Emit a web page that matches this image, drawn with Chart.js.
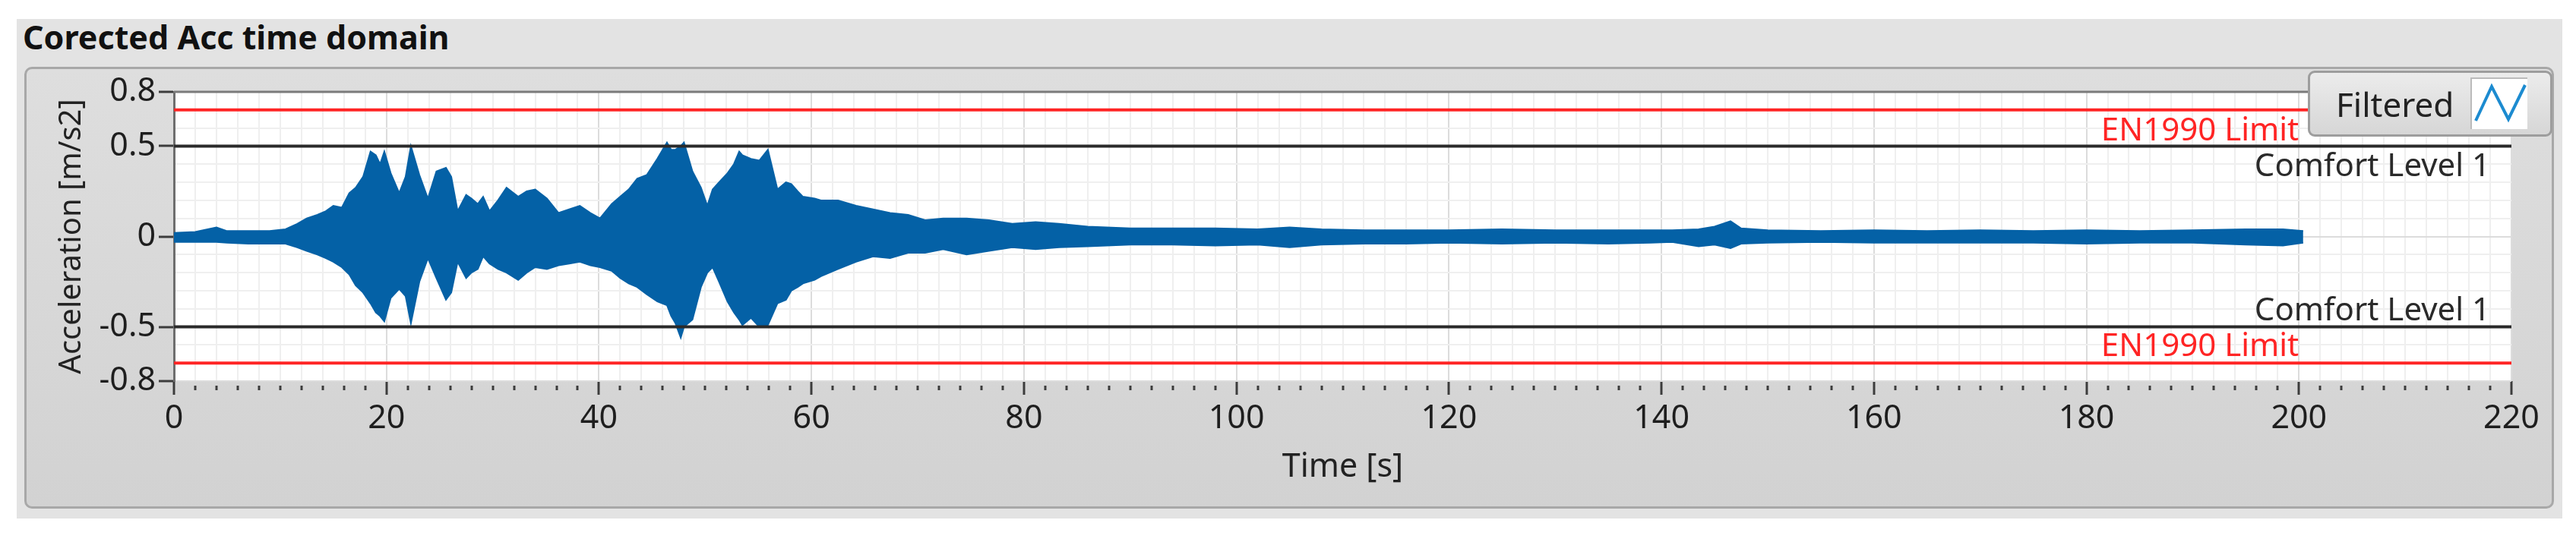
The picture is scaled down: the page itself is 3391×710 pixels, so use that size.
<!DOCTYPE html>
<html>
<head>
<meta charset="utf-8">
<script src="https://cdn.jsdelivr.net/npm/chart.js@4.4.0/dist/chart.umd.min.js"></script>
<style>
body { margin: 0; background: #fff; width: 3391px; height: 710px; overflow: hidden; position: relative; font-family: 'Noto Sans', sans-serif; }
#outer { position: absolute; left: 22px; top: 25px; width: 3351px; height: 658px; background: #e3e3e3; }
#title { position: absolute; left: 30px; top: 27px; font-weight: bold; font-size: 43px; line-height: 43px; color: #111; white-space: nowrap; }
#inner { position: absolute; left: 32px; top: 88px; width: 3324px; height: 576px; border: 3px solid #a8a8a8; border-radius: 10px; background: linear-gradient(#dedede, #d2d2d2); }
#wrap { position: absolute; left: 0; top: 0; width: 3391px; height: 710px; }
#legend { position: absolute; left: 3038px; top: 93px; width: 316px; height: 81px; border: 3px solid #9d9d9d; border-radius: 9px; background: linear-gradient(#ececec, #d6d6d6); }
#legName { position: absolute; left: 34px; top: 19px; font-size: 44px; line-height: 44px; color: #222; }
#legIcon { position: absolute; left: 211px; top: 6px; width: 73px; height: 66px; background: #fff; border-left: 2px solid #bbb; border-top: 2px solid #bbb; }
</style>
</head>
<body>
<div id="outer"></div>
<div id="title">Corected Acc time domain</div>
<div id="inner"></div>
<div id="wrap"><canvas id="chart" width="3391" height="710"></canvas></div>
<div id="legend">
  <span id="legName">Filtered</span>
  <div id="legIcon"><svg width="73" height="66"><polyline points="5,55 26,10 48,53 70,8" stroke="#1c8bd0" stroke-width="4" fill="none"/></svg></div>
</div>
<script>
// envelope of the filtered acceleration signal (max / min)
var timeS = [0, 2, 4, 5, 7, 9, 10.5, 11.6, 12.5, 13.5, 14.3, 15, 15.8, 16.5, 17.1, 17.8, 18.5, 19, 19.4, 19.8,
  20.4, 21.2, 21.8, 22.3, 23.1, 23.9, 24.7, 25.6, 26.1, 26.7, 27.5, 28, 28.6, 29.1, 29.7, 30.5, 31.3, 32.4, 33.2, 34,
  35.1, 36.2, 37.2, 38.2, 39.2, 40.1, 41.2, 42, 42.8, 43.6, 44.5, 45.5, 46.4, 46.8, 47.2, 47.7, 48, 48.8, 49.6, 50.2,
  50.7, 51.3, 52.1, 52.7, 53.2, 53.5, 54.3, 55.1, 55.9, 56.8, 57.6, 58.1, 58.7, 59.2, 60.3, 60.9, 62.5, 64.2, 65.8, 67.4,
  69.1, 70.7, 72.4, 74.6, 76.7, 78.9, 81.1, 83.3, 86, 90, 94, 98, 102, 105, 108, 112, 116, 120, 125, 130,
  135, 139, 141, 143.5, 145, 146.5, 147.5, 150, 155, 160, 165, 170, 175, 180, 185, 190, 195, 198.5, 200.4];
var accUpper = [0.02, 0.025, 0.05, 0.03, 0.03, 0.03, 0.04, 0.07, 0.10, 0.12, 0.14, 0.17, 0.16, 0.24, 0.27, 0.33, 0.47, 0.45, 0.40, 0.47,
  0.35, 0.24, 0.33, 0.50, 0.34, 0.21, 0.36, 0.38, 0.33, 0.14, 0.23, 0.21, 0.18, 0.22, 0.14, 0.20, 0.27, 0.22, 0.25, 0.26,
  0.21, 0.13, 0.15, 0.17, 0.13, 0.10, 0.18, 0.22, 0.26, 0.32, 0.34, 0.43, 0.52, 0.48, 0.48, 0.50, 0.52, 0.36, 0.27, 0.17,
  0.26, 0.30, 0.35, 0.40, 0.47, 0.45, 0.43, 0.42, 0.48, 0.26, 0.30, 0.29, 0.25, 0.22, 0.21, 0.20, 0.20, 0.17, 0.15, 0.13,
  0.12, 0.09, 0.10, 0.10, 0.09, 0.07, 0.08, 0.07, 0.055, 0.045, 0.045, 0.045, 0.04, 0.05, 0.04, 0.035, 0.035, 0.035, 0.04, 0.035,
  0.035, 0.035, 0.035, 0.04, 0.055, 0.085, 0.045, 0.035, 0.03, 0.035, 0.03, 0.035, 0.03, 0.035, 0.03, 0.035, 0.04, 0.04, 0.03];
var accLower = [-0.03, -0.03, -0.03, -0.035, -0.04, -0.04, -0.04, -0.06, -0.08, -0.10, -0.12, -0.14, -0.17, -0.21, -0.27, -0.31, -0.37, -0.42, -0.44, -0.47,
  -0.34, -0.29, -0.33, -0.48, -0.25, -0.12, -0.23, -0.35, -0.31, -0.14, -0.23, -0.20, -0.18, -0.11, -0.15, -0.18, -0.20, -0.24, -0.20, -0.17,
  -0.18, -0.16, -0.15, -0.14, -0.16, -0.17, -0.19, -0.23, -0.26, -0.28, -0.32, -0.36, -0.38, -0.44, -0.48, -0.56, -0.50, -0.46, -0.28, -0.20,
  -0.17, -0.25, -0.36, -0.42, -0.46, -0.49, -0.45, -0.50, -0.49, -0.37, -0.35, -0.30, -0.28, -0.26, -0.24, -0.22, -0.18, -0.14, -0.11, -0.12,
  -0.09, -0.09, -0.07, -0.10, -0.08, -0.06, -0.07, -0.06, -0.055, -0.045, -0.045, -0.05, -0.045, -0.06, -0.045, -0.04, -0.04, -0.035, -0.04, -0.035,
  -0.04, -0.035, -0.03, -0.055, -0.045, -0.065, -0.04, -0.035, -0.03, -0.035, -0.035, -0.035, -0.035, -0.04, -0.035, -0.035, -0.045, -0.05, -0.035];

var limitNames = ['EN1990 Limit', 'Comfort Level 1'];
var limitValues = [0.7, 0.5];
var limitColors = ['#ff2424', '#2a2a2a'];
var limitLabelEnd = [200, 218];   // x value where each label text ends

var xRange = [0, 220];
var xLabelTicks = [0, 20, 40, 60, 80, 100, 120, 140, 160, 180, 200, 220];
var xGridTicks = [];
for (var g = 0; g <= 220; g += 2) xGridTicks.push(g);
var yRange = [-0.8, 0.8];
var yLabelTicks = [0.8, 0.5, 0, -0.5, -0.8];
var yGridTicks = [-0.8, -0.7, -0.6, -0.5, -0.4, -0.3, -0.2, -0.1, 0, 0.1, 0.2, 0.3, 0.4, 0.5, 0.6, 0.7, 0.8];

var FONT = "'Noto Sans', sans-serif";
var BLUE = '#0461a6';

var datasets = [
  {
    label: 'Filtered', order: 2,
    data: timeS.map((t, i) => ({x: t, y: accUpper[i]})),
    borderColor: BLUE, backgroundColor: BLUE, borderWidth: 2,
    pointRadius: 0, fill: '+1', tension: 0
  },
  {
    label: 'Filtered min', order: 2,
    data: timeS.map((t, i) => ({x: t, y: accLower[i]})),
    borderColor: BLUE, borderWidth: 2, pointRadius: 0, fill: false, tension: 0
  }
];
limitValues.forEach(function (v, i) {
  [v, -v].forEach(function (lv) {
    datasets.push({
      label: limitNames[i], order: 0,
      data: [{x: xRange[0], y: lv}, {x: xRange[1], y: lv}],
      borderColor: limitColors[i], borderWidth: 4, pointRadius: 0, fill: false
    });
  });
});

var panelPlugin = {
  id: 'panel',
  beforeDraw: function (chart) {
    var a = chart.chartArea, ctx = chart.ctx;
    ctx.save();
    ctx.fillStyle = '#ffffff';
    ctx.fillRect(a.left, a.top, a.right - a.left, a.bottom - a.top);
    ctx.restore();
  },
  afterDraw: function (chart) {
    var a = chart.chartArea, ctx = chart.ctx;
    ctx.save();
    ctx.strokeStyle = '#7a7a7a';
    ctx.lineWidth = 3;
    ctx.beginPath();
    ctx.moveTo(a.left, a.top);
    ctx.lineTo(a.right, a.top);
    ctx.stroke();
    ctx.restore();
  }
};

var limitLabels = {
  id: 'limitLabels',
  afterDatasetsDraw: function (chart) {
    var ctx = chart.ctx, xs = chart.scales.x, ys = chart.scales.y;
    ctx.save();
    ctx.font = '42px ' + FONT;
    ctx.textAlign = 'right';
    ctx.textBaseline = 'alphabetic';
    limitValues.forEach(function (v, i) {
      ctx.fillStyle = limitColors[i];
      var x = xs.getPixelForValue(limitLabelEnd[i]);
      ctx.fillText(limitNames[i], x, ys.getPixelForValue(v) + 40);
      ctx.fillText(limitNames[i], x, ys.getPixelForValue(-v) - 9);
    });
    ctx.restore();
  }
};

new Chart(document.getElementById('chart'), {
  type: 'line',
  data: { datasets: datasets },
  plugins: [panelPlugin, limitLabels],
  options: {
    responsive: false,
    animation: false,
    devicePixelRatio: 1,
    layout: { padding: { left: 0, right: 85, top: 121, bottom: 40 } },
    plugins: { legend: { display: false }, tooltip: { enabled: false }, title: { display: false } },
    scales: {
      x: {
        type: 'linear', min: xRange[0], max: xRange[1],
        afterBuildTicks: function (s) { s.ticks = xGridTicks.map(v => ({value: v})); },
        afterFit: function (s) { s.height = 168; },
        ticks: {
          autoSkip: false, maxRotation: 0, padding: 6, color: '#1e1e1e',
          font: { family: FONT, size: 43 },
          callback: function (v) { return xLabelTicks.indexOf(v) >= 0 ? String(v) : ''; }
        },
        grid: {
          color: ctx => xLabelTicks.indexOf(ctx.tick.value) >= 0 ? '#dcdcdc' : '#efefef',
          lineWidth: 2,
          tickLength: 18, tickWidth: 3, tickColor: '#3c3c3c',
          tickBorderDash: ctx => xLabelTicks.indexOf(ctx.tick.value) >= 0 ? [] : [6, 100],
          tickBorderDashOffset: ctx => xLabelTicks.indexOf(ctx.tick.value) >= 0 ? 0 : 100
        },
        border: { display: false },
        title: { display: true, text: 'Time [s]', color: '#222', font: { family: FONT, size: 43 }, padding: { top: 0, bottom: 28 } }
      },
      y: {
        min: yRange[0], max: yRange[1],
        afterBuildTicks: function (s) { s.ticks = yGridTicks.map(v => ({value: v})); },
        afterFit: function (s) { s.width = 229; },
        ticks: {
          autoSkip: false, padding: 4, color: '#1e1e1e',
          font: { family: FONT, size: 43 },
          callback: function (v) { return yLabelTicks.indexOf(v) >= 0 ? String(v) : ''; }
        },
        grid: {
          color: ctx => yLabelTicks.indexOf(ctx.tick.value) >= 0 ? '#dcdcdc' : '#efefef',
          lineWidth: 2,
          tickLength: 20, tickWidth: 3,
          tickColor: ctx => yLabelTicks.indexOf(ctx.tick.value) >= 0 ? '#3c3c3c' : 'rgba(0,0,0,0)'
        },
        border: { display: true, color: '#6e6e6e', width: 3 },
        title: { display: true, text: 'Acceleration [m/s2]', color: '#222', font: { family: FONT, size: 40 }, padding: { top: 71, bottom: 0 } }
      }
    }
  }
});
</script>
</body>
</html>
